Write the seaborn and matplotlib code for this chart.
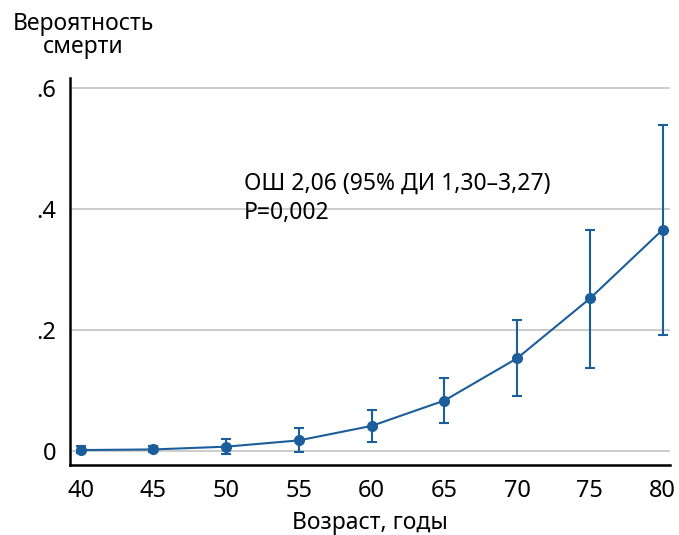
import numpy as np
import pandas as pd
import matplotlib
matplotlib.use("Agg")
import matplotlib.pyplot as plt
import seaborn as sns

# возраст и вероятность смерти с 95% ДИ
age = [40, 45, 50, 55, 60, 65, 70, 75, 80]
prob = [0.001, 0.002, 0.0066, 0.017, 0.041, 0.083, 0.153, 0.252, 0.366]
ci_low = [-0.004, -0.003, -0.0055, -0.003, 0.014, 0.046, 0.091, 0.137, 0.192]
ci_high = [0.007, 0.008, 0.019, 0.038, 0.0675, 0.120, 0.216, 0.366, 0.539]
yticks = [0, 0.2, 0.4, 0.6]
ytick_labels = ["0", ".2", ".4", ".6"]

df = pd.DataFrame({"age": age, "prob": prob})
color = "#1b5e9b"

sns.set_style("white")
plt.rcParams["font.family"] = ["Noto Sans", "DejaVu Sans"]
plt.rcParams["text.color"] = "black"

fig = plt.figure(figsize=(6.79, 5.35), dpi=100)
ax = fig.add_axes([0.1031, 0.1308, 0.8836, 0.7232])

for y in yticks:
    ax.axhline(y, color="#c4c4c4", lw=1.2, zorder=0)

yerr = [np.array(prob) - np.array(ci_low), np.array(ci_high) - np.array(prob)]
ax.errorbar(age, prob, yerr=yerr, fmt="none", ecolor=color, elinewidth=1.5,
            capsize=3.5, capthick=1.5, zorder=2)
sns.lineplot(data=df, x="age", y="prob", ax=ax, color=color, marker="o",
             markersize=8, markeredgewidth=0, lw=1.5, zorder=3)

ax.set_xlim(39.27, 80.5)
ax.set_ylim(-0.0238, 0.617)
ax.set_xticks(age)
ax.set_yticks(yticks)
ax.set_yticklabels(ytick_labels)
ax.tick_params(axis="both", direction="out", length=6, width=1.5, color="black",
               labelcolor="black", labelsize=17, pad=4)
for s in ["top", "right"]:
    ax.spines[s].set_visible(False)
for s in ["left", "bottom"]:
    ax.spines[s].set_color("black")
    ax.spines[s].set_linewidth(1.8)

ax.set_xlabel("Возраст, годы", fontsize=16.5, labelpad=6, color="black")
ax.set_ylabel("")
fig.text(83 / 679, 1 - 12 / 535, "Вероятность\nсмерти", ha="center", va="top",
         fontsize=16.5, linespacing=0.95, multialignment="center")

ax.text(51.2, 0.462, "ОШ 2,06 (95% ДИ 1,30–3,27)", fontsize=16.5, va="top", ha="left")
ax.text(51.2, 0.414, "P=0,002", fontsize=16.5, va="top", ha="left")

fig.savefig("out.png", dpi=100)
